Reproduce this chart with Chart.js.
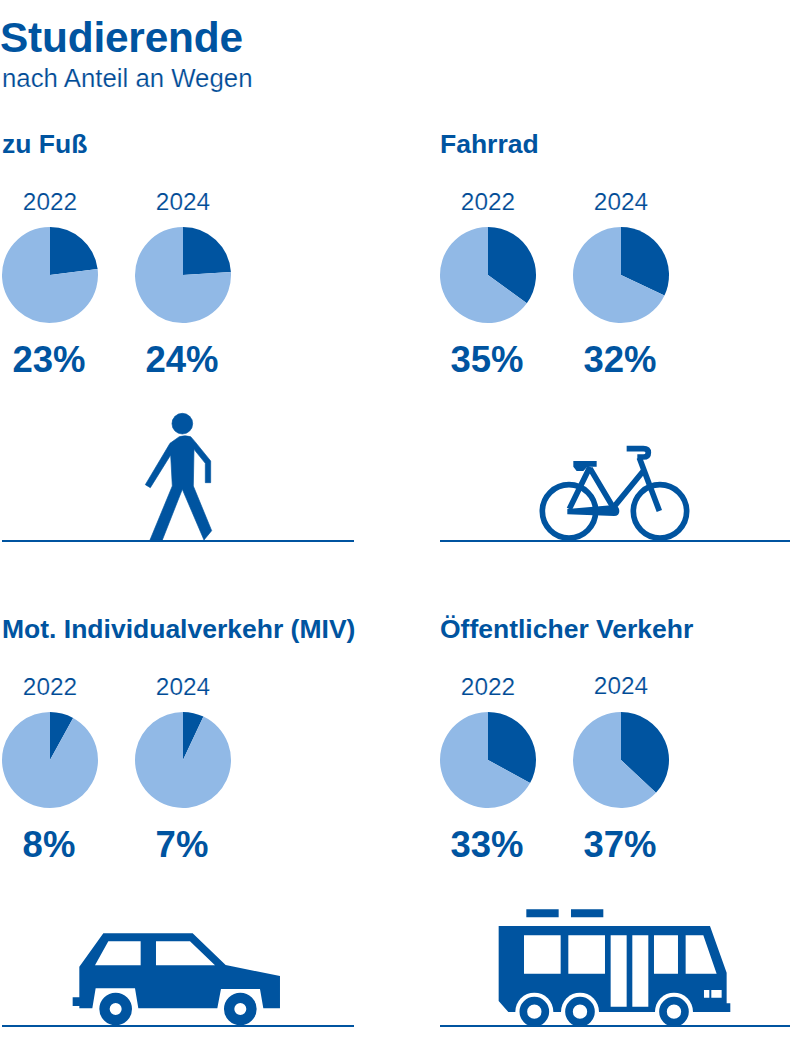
<!DOCTYPE html>
<html lang="de">
<head>
<meta charset="utf-8">
<title>Studierende nach Anteil an Wegen</title>
<script src="https://cdn.jsdelivr.net/npm/chart.js@4"></script>
<style>
  html, body { margin: 0; background: #fff; }
  body { position: relative; width: 790px; height: 1043px; overflow: hidden;
         font-family: "Liberation Sans", Arial, sans-serif; color: #0054a0; }
  .t { position: absolute; white-space: nowrap; line-height: 1; }
  .title { left: 0; top: 17px; font-size: 42.4px; font-weight: bold; letter-spacing: -0.2px; }
  .sub { left: 2px; top: 66px; font-size: 25.8px; color: #004b96; -webkit-text-stroke: 0.2px #fff; }
  .head { font-size: 26.5px; font-weight: bold; }
  .year { font-size: 24.4px; width: 100px; text-align: center; color: #004b96; -webkit-text-stroke: 0.2px #fff; }
  .pct { font-size: 36.5px; font-weight: bold; width: 100px; text-align: center; }
  canvas { position: absolute; }
  #icons { position: absolute; left: 0; top: 0; }
</style>
</head>
<body>
<div class="t title">Studierende</div>
<div class="t sub">nach Anteil an Wegen</div>

<svg id="icons" width="790" height="1043" fill="#0054a0">
  <!-- zu Fuss -->
  <g transform="translate(120 400) scale(.3333)" stroke="#0054a0" stroke-width="2">
    <circle cx="187" cy="71" r="31"/>
    <path d="M178 110 Q195 105 212 110 L225 125 L272 183 V248 H256 V190 L222 148 L220 258 L275 392 L252 420 L187 268 L127 420 H90 L157 258 L152 165 L91 263 L76 254 L150 130 Z"/>
  </g>
  <!-- Fahrrad -->
  <g transform="translate(530 435) scale(.3333)" fill="none" stroke="#0054a0" stroke-width="17">
    <circle cx="117" cy="229" r="80"/>
    <circle cx="390" cy="229" r="80"/>
    <path d="M180 95 L118 222 M180 100 L250 218 L340 108"/>
    <path d="M328 68 L388 228" />
    <path d="M290 41 H340 Q355 41 355 53 Q355 66 340 66 H322"/>
    <path fill="#0054a0" stroke="none" d="M130 78 H200 V95 H172 L160 108 H140 L130 95 Z"/>
    <path fill="#0054a0" stroke="none" d="M112 222 L252 210 Q268 214 268 228 Q268 243 252 243 L112 238 Z"/>
  </g>
  <!-- MIV -->
  <g transform="translate(60 920) scale(.3333)">
    <path d="M130 40 H398 L497 135 L660 168 V265 H610 L600 207 H483 L472 265 H235 L225 205 H107 L97 265 H58 V258 H38 V232 H58 V140 Z"/>
    <path fill="#fff" d="M145 64 H242 V136 H105 Z M288 64 H390 L465 136 H288 Z"/>
    <g fill="none" stroke="#0054a0" stroke-width="31">
      <circle cx="167" cy="267" r="33.5"/>
      <circle cx="541" cy="267" r="33.5"/>
    </g>
  </g>
  <!-- OEV -->
  <g transform="translate(490 900) scale(.3333)">
    <path d="M109 28 H206 V52 H109 Z M243 28 H340 V52 H243 Z"/>
    <path d="M26 78 H660 L710 218 V310 H721 V336 H55 L26 303 Z"/>
    <path fill="#fff" d="M102 106 H212 V221 H102 Z M235 106 H345 V221 H235 Z M362 106 H410 V320 H362 Z M427 106 H475 V320 H427 Z M492 106 H564 V221 H492 Z M587 106 H640 L680 221 H587 Z M642 270 H658 V293 H642 Z M664 270 H695 V293 H664 Z"/>
    <g fill="#fff">
      <circle cx="133" cy="335" r="57"/>
      <circle cx="270" cy="335" r="57"/>
      <circle cx="552" cy="335" r="57"/>
    </g>
    <g fill="none" stroke="#0054a0" stroke-width="23">
      <circle cx="133" cy="335" r="33"/>
      <circle cx="270" cy="335" r="33"/>
      <circle cx="552" cy="335" r="33"/>
    </g>
  </g>
  <!-- Grundlinien -->
  <rect x="2" y="540" width="352" height="2"/>
  <rect x="440" y="540" width="350" height="2"/>
  <rect x="2" y="1025" width="352" height="2"/>
  <rect x="440" y="1025" width="350" height="2"/>
</svg>

<script>
const categories = ['zu Fuß', 'Fahrrad', 'Mot. Individualverkehr (MIV)', 'Öffentlicher Verkehr'];
const years = ['2022', '2024'];
const shares2022 = [23, 35, 8, 33];
const shares2024 = [24, 32, 7, 37];

const DARK = '#0054a0';
const LIGHT = '#91b9e6';

// panel origin: left edge of the first pie and top of the block
const panelX = [0, 438, 0, 438];
const panelY = [0, 0, 485, 485];
const pieGap = 133;

function addText(cls, text, x, y) {
  const el = document.createElement('div');
  el.className = 't ' + cls;
  el.textContent = text;
  el.style.left = x + 'px';
  el.style.top = y + 'px';
  document.body.appendChild(el);
}

function addPie(value, label, x, y) {
  const cv = document.createElement('canvas');
  cv.width = 100;
  cv.height = 100;
  cv.style.left = x + 'px';
  cv.style.top = y + 'px';
  document.body.appendChild(cv);
  new Chart(cv, {
    type: 'pie',
    data: {
      labels: [label, 'andere'],
      datasets: [{
        data: [value, 100 - value],
        backgroundColor: [DARK, LIGHT],
        borderWidth: 0
      }]
    },
    options: {
      responsive: false,
      animation: false,
      radius: 48,
      layout: { padding: 0 },
      plugins: { legend: { display: false }, tooltip: { enabled: false } }
    }
  });
}

categories.forEach((cat, i) => {
  const x = panelX[i], y = panelY[i];
  addText('head', cat, x + 2, y + 131);
  [shares2022[i], shares2024[i]].forEach((v, k) => {
    const px = x + k * pieGap;
    // the last 2024 label sits a bit higher in the original
    addText('year', years[k], px, y + 190 - (i === 3 && k === 1 ? 1.5 : 0));
    addPie(v, years[k], px, y + 225);
    addText('pct', v + '%', px - 1, y + 342);
  });
});
</script>
</body>
</html>
